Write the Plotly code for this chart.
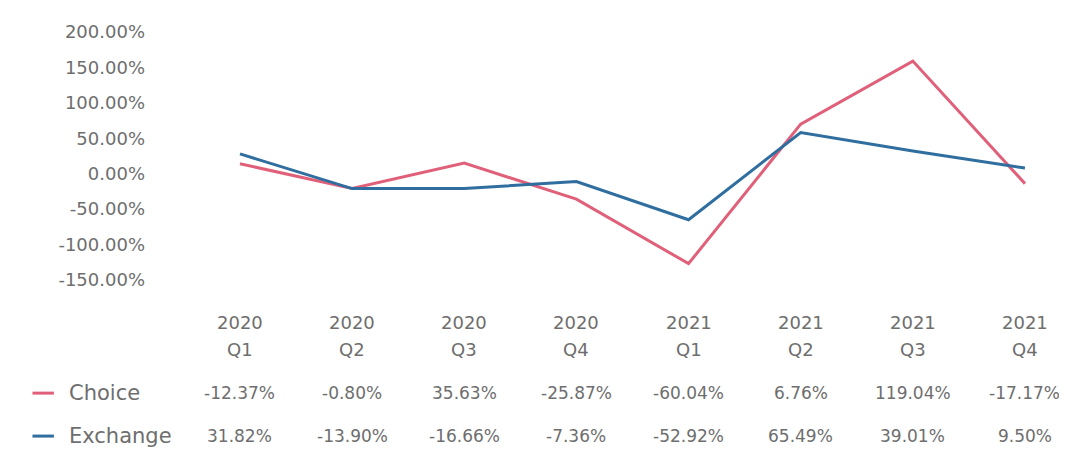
import plotly.graph_objects as go

# ── data ────────────────────────────────────────────
years = ["2020", "2020", "2020", "2020", "2021", "2021", "2021", "2021"]
quarters = ["Q1", "Q2", "Q3", "Q4", "Q1", "Q2", "Q3", "Q4"]
categories = [f"{y} {q}" for y, q in zip(years, quarters)]

# values as drawn in the plot (percent)
choice_plot = [14, -21, 15, -36, -127, 70, 159, -14]
exchange_plot = [28, -21, -21, -11, -65, 58, 32, 8]

# values as printed in the table under the chart
choice_table = ["-12.37%", "-0.80%", "35.63%", "-25.87%", "-60.04%", "6.76%", "119.04%", "-17.17%"]
exchange_table = ["31.82%", "-13.90%", "-16.66%", "-7.36%", "-52.92%", "65.49%", "39.01%", "9.50%"]

y_ticks = [-150, -100, -50, 0, 50, 100, 150, 200]

RED = "#E0607A"
BLUE = "#2F6E9F"
TEXT = "#6E6E6E"
FONT = "DejaVu Sans"

fig = go.Figure()
fig.add_trace(go.Scatter(x=categories, y=choice_plot, mode="lines", name="Choice",
                         line=dict(color=RED, width=3)))
fig.add_trace(go.Scatter(x=categories, y=exchange_plot, mode="lines", name="Exchange",
                         line=dict(color=BLUE, width=3)))

# ── table below plot ────────────────────────────────
row_y = {"year": -0.134, "q": -0.240, "choice": -0.405, "exchange": -0.569}
row_size = {"year": 18, "q": 18, "choice": 17, "exchange": 17}
for i, cat in enumerate(categories):
    for key, txt in (("year", years[i]), ("q", quarters[i]),
                     ("choice", choice_table[i]), ("exchange", exchange_table[i])):
        fig.add_annotation(x=cat, y=row_y[key], xref="x", yref="paper", text=txt,
                           showarrow=False, xanchor="center", yanchor="middle",
                           font=dict(family=FONT, size=row_size[key], color=TEXT))

for name, color, key in (("Choice", RED, "choice"), ("Exchange", BLUE, "exchange")):
    fig.add_shape(type="line", xref="paper", yref="paper",
                  x0=-0.127, x1=-0.103, y0=row_y[key], y1=row_y[key],
                  line=dict(color=color, width=3))
    fig.add_annotation(x=-0.088, y=row_y[key], xref="paper", yref="paper", text=name,
                       showarrow=False, xanchor="left", yanchor="middle",
                       font=dict(family=FONT, size=21, color=TEXT))

# page body adds an 8px offset, so the figure is drawn 8px smaller
fig.update_layout(
    width=1059, height=442,
    margin=dict(l=138, r=27, t=17, b=163),
    plot_bgcolor="white", paper_bgcolor="white",
    showlegend=False,
    font=dict(family=FONT, color=TEXT, size=18),
    xaxis=dict(type="category", range=[-0.838, 7.134], showticklabels=False,
               showgrid=False, zeroline=False, showline=False),
    yaxis=dict(range=[-160, 210], tickvals=y_ticks,
               ticktext=[f"{v:.2f}%" for v in y_ticks],
               showgrid=False, zeroline=False, showline=False,
               tickfont=dict(family=FONT, size=18, color=TEXT)),
)

fig.write_html("out.html")
